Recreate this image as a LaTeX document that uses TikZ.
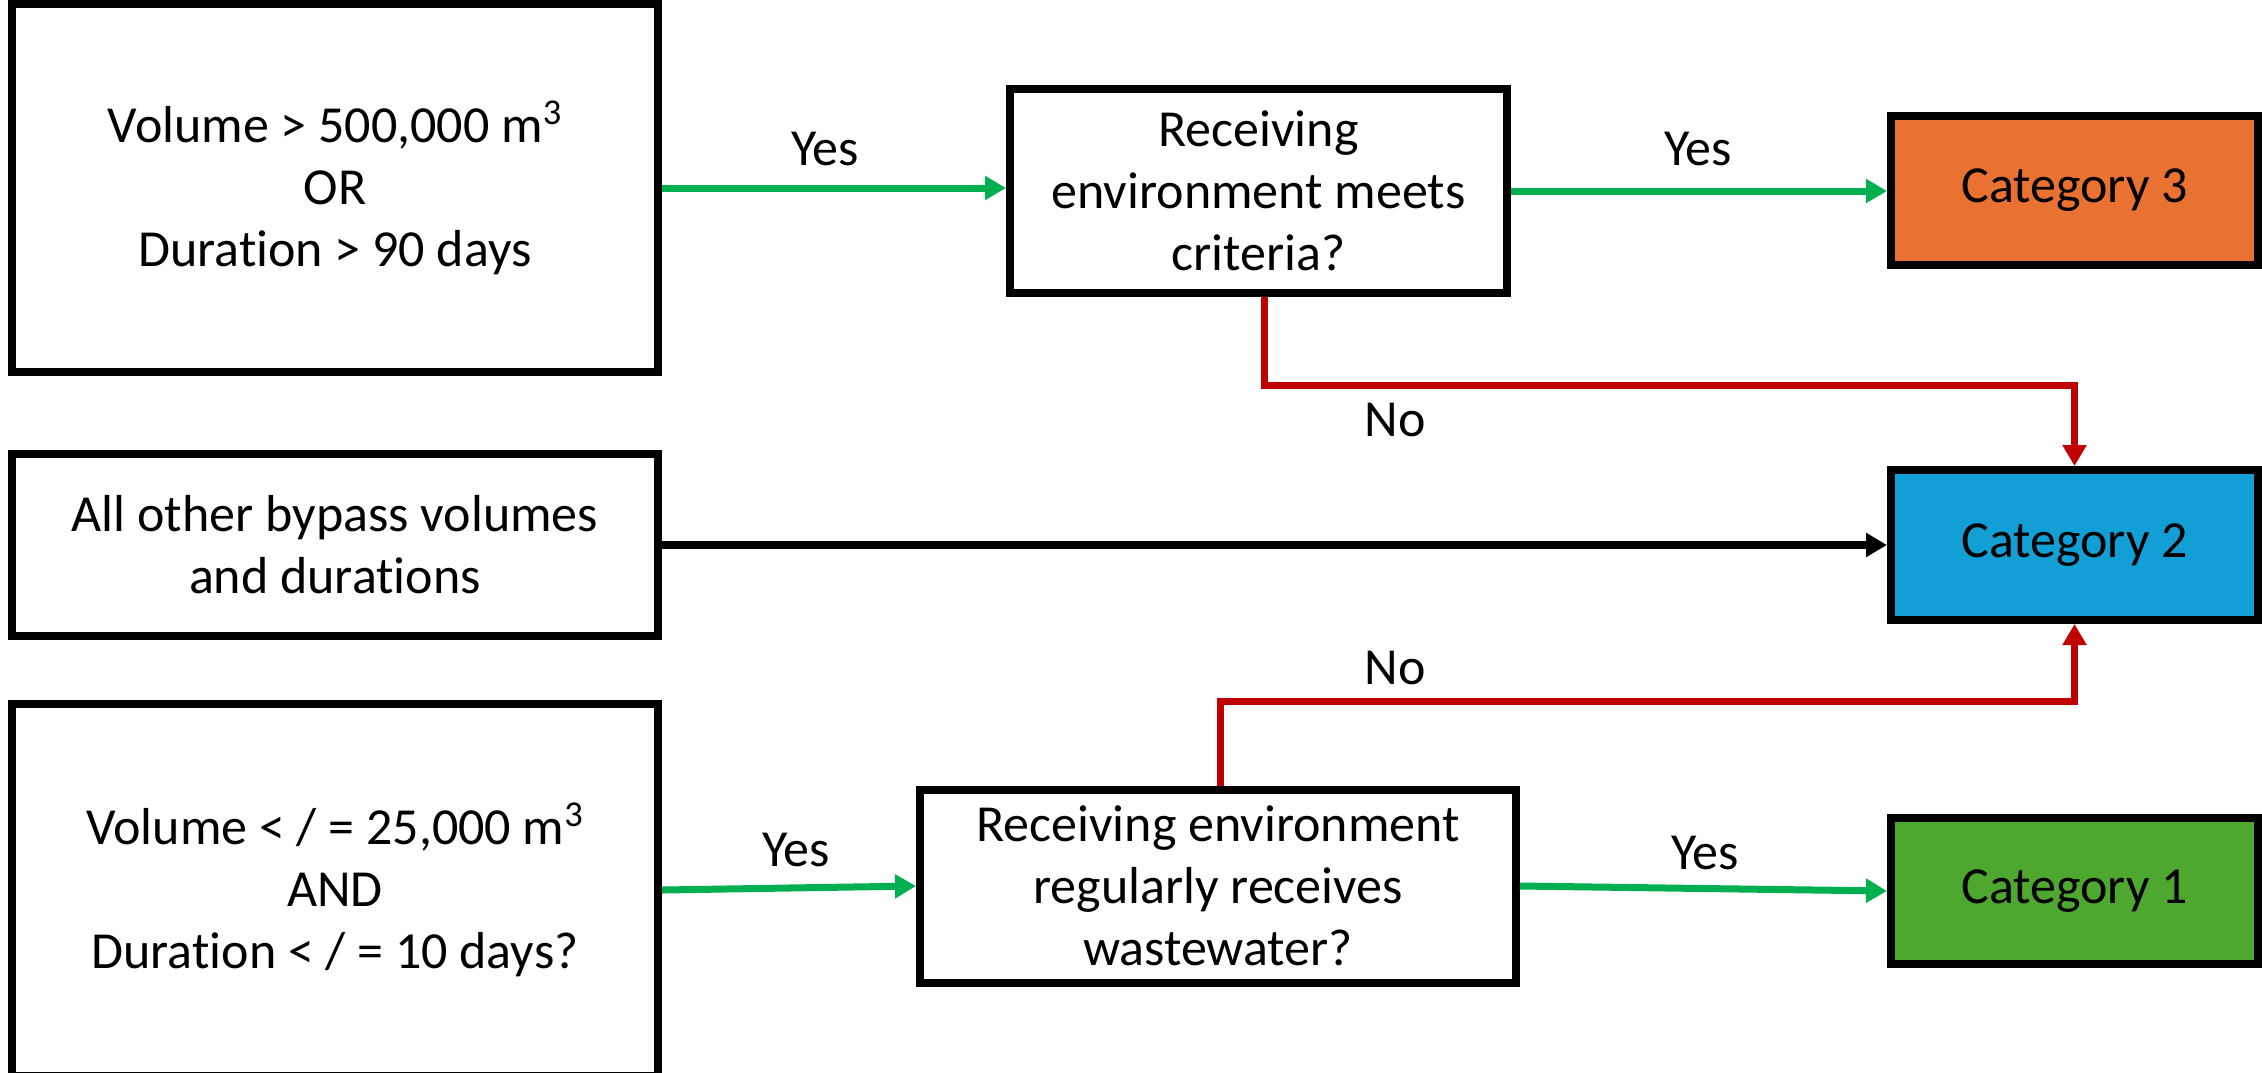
\documentclass[tikz,border=0pt]{standalone}
\usepackage{fontspec}
\setmainfont{Carlito}[RawFeature=-liga]
\usetikzlibrary{arrows.meta}
\definecolor{cOrange}{HTML}{E97132}
\definecolor{cBlue}{HTML}{129FD6}
\definecolor{cGreenFill}{HTML}{4EA72E}
\definecolor{cGreenLine}{HTML}{00B050}
\definecolor{cRed}{HTML}{C00000}
\tikzset{
  box/.style={draw=black, line width=4pt, inner sep=0pt, align=center,
    font=\fontsize{26}{31}\selectfont},
  lbl/.style={inner sep=0pt, font=\fontsize{26}{31}\selectfont},
  conn/.style={line width=3.5pt, -{Triangle[length=10.5pt,width=11.5pt]}},
  garrow/.style={conn, draw=cGreenLine, color=cGreenLine},
  rarrow/.style={conn, draw=cRed, color=cRed},
  karrow/.style={conn, draw=black, line width=4pt},
}
\begin{document}
\begin{tikzpicture}[x=0.5pt,y=-0.5pt]
\useasboundingbox (0,0) rectangle (2262,1072);
\fill[white] (0,0) rectangle (2262,1072);
% nodes
\node[box, minimum width=323pt, minimum height=184pt] (A) at (335,188)
  {Volume > 500,000 m\textsuperscript{3}\\OR\\Duration > 90 days};
\node[box, minimum width=323pt, minimum height=91pt] (oth) at (335,545)
  {All other bypass volumes\\and durations};
\node[box, minimum width=323pt, minimum height=186pt] (D) at (335,890)
  {Volume < / = 25,000 m\textsuperscript{3}\\AND\\Duration < / = 10 days?};
\node[box, minimum width=248.5pt, minimum height=102pt] (B) at (1258.5,191)
  {Receiving\\environment meets\\criteria?};
\node[box, minimum width=298pt, minimum height=96.5pt] (C) at (1218,886)
  {Receiving environment\\regularly receives\\wastewater?};
\node[box, fill=cOrange, minimum width=183.5pt, minimum height=74.5pt] (cat3) at (2074.5,190) {Category 3};
\node[box, fill=cBlue, minimum width=183.5pt, minimum height=75pt] (cat2) at (2074.5,545) {Category 2};
\node[box, fill=cGreenFill, minimum width=183.5pt, minimum height=73pt] (cat1) at (2074.5,891) {Category 1};
% connectors
\draw[garrow] (A.east) -- (A.east -| B.west);
\draw[garrow] (B.east) -- (B.east -| cat3.west);
\draw[rarrow] ([xshift=3pt]B.south) -- ++(0,88) -| (cat2.north);
\draw[karrow] (oth.east) -- (cat2.west);
\draw[garrow] (D.east) -- (C.west);
\draw[rarrow] ([xshift=1pt]C.north) -- ++(0,-84) -| (cat2.south);
\draw[garrow] (C.east) -- (cat1.west);
% labels
\node[lbl] (y1) at (825,149) {Yes};
\node[lbl] (y2) at (1698,149) {Yes};
\node[lbl] (y3) at (796,850) {Yes};
\node[lbl] (y4) at (1705,853) {Yes};
\node[lbl] (n1) at (1395,420) {No};
\node[lbl] (n2) at (1395,668) {No};
\end{tikzpicture}
\end{document}
